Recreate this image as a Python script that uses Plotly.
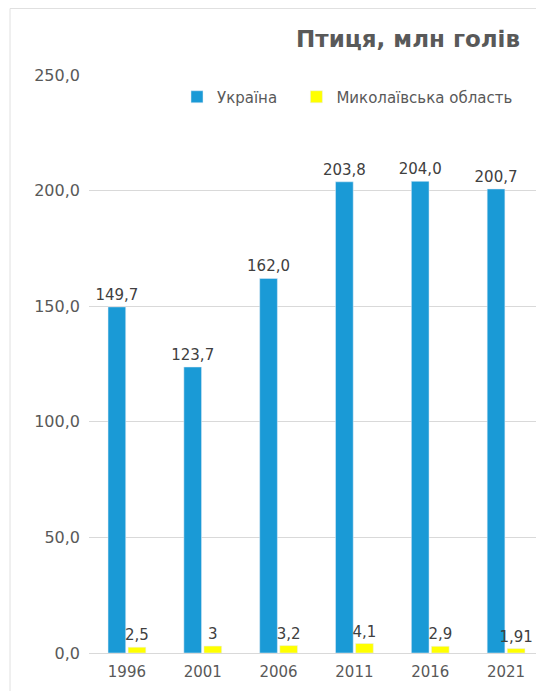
import plotly.graph_objects as go

years = ["1996", "2001", "2006", "2011", "2016", "2021"]
ukraine = [149.7, 123.7, 162.0, 203.8, 204.0, 200.7]
mykolaiv = [2.5, 3, 3.2, 4.1, 2.9, 1.91]
ukraine_labels = ["149,7", "123,7", "162,0", "203,8", "204,0", "200,7"]
mykolaiv_labels = ["2,5", "3", "3,2", "4,1", "2,9", "1,91"]

gray = "#595959"
font_family = "DejaVu Sans, sans-serif"

W, H = 536, 683
L, R, T, B = 81, 0, 67, 38
pw = W - L - R
ph = H - T - B

fig = go.Figure()
fig.add_trace(go.Bar(
    x=years, y=ukraine, name="Україна\u00a0\u00a0\u00a0",
    marker=dict(color="#1a9ad6"),
    text=ukraine_labels, textposition="outside", cliponaxis=False,
    constraintext="none",
    textfont=dict(size=15, color="#404040"),
))
fig.add_trace(go.Bar(
    x=years, y=mykolaiv, name="Миколаївська область",
    marker=dict(color="#ffff00"),
    text=mykolaiv_labels, textposition="outside", cliponaxis=False,
    constraintext="none",
    textfont=dict(size=15, color="#404040"),
))

fig.update_layout(
    width=W, height=H,
    margin=dict(l=L, r=R, t=T, b=B),
    paper_bgcolor="white", plot_bgcolor="white",
    font=dict(family=font_family, color=gray, size=15),
    separators=", ",
    barmode="group", bargap=0.47, bargroupgap=0.12,
    title=dict(text="<b>Птиця, млн голів</b>", x=512 / W, xanchor="right",
               y=1 - 31 / H, yanchor="middle", xref="container", yref="container",
               font=dict(size=23, color=gray)),
    legend=dict(orientation="h", x=(169 - L) / pw, xanchor="left",
                y=(645 - 89) / ph, yanchor="middle",
                font=dict(size=15, color=gray), bgcolor="rgba(0,0,0,0)"),
    xaxis=dict(type="category", showline=True, linecolor="#d9d9d9", linewidth=1,
               ticks="", tickfont=dict(size=15, color=gray), ticklabelstandoff=5),
    yaxis=dict(range=[0, 250], dtick=50, tickformat=".1f", showgrid=True,
               gridcolor="#d9d9d9", zeroline=False, showline=False,
               tickfont=dict(size=16, color=gray), ticklabelstandoff=8),
    shapes=[dict(type="rect", xref="paper", yref="paper",
                 x0=(2 - L) / pw, x1=1.05, y0=-0.2, y1=(645 - 0.5) / ph,
                 line=dict(color="#e0e0e0", width=1), fillcolor="rgba(0,0,0,0)",
                 layer="below")],
)

fig.write_html("out.html")
